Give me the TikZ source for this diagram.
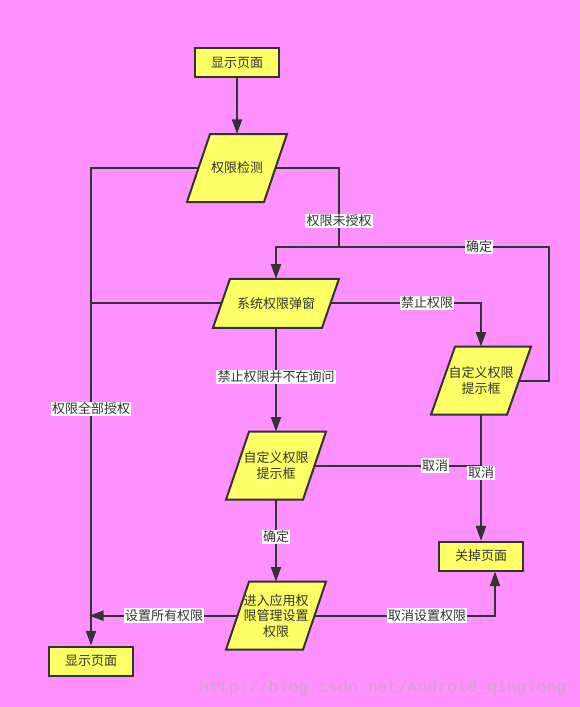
\documentclass[tikz,border=0pt]{standalone}
\usepackage{fontspec}
\newfontfamily\cjk{Noto Sans CJK SC}
\newfontfamily\wmfont{Liberation Mono}
\usetikzlibrary{arrows.meta}
\pgfdeclarelayer{bg}
\pgfdeclarelayer{shapes}
\pgfsetlayers{bg,shapes,main}
\definecolor{pinkbg}{RGB}{255,145,255}
\definecolor{boxyellow}{RGB}{255,255,102}
\definecolor{ink}{RGB}{51,51,51}
\definecolor{wmcol}{RGB}{205,165,205}
\newcommand{\paraoutline}[2]{%
  \begin{pgfonlayer}{shapes}
  \draw[paraline] ([xshift=#2*0.375pt]#1.north west) -- ([xshift=#2*0.375pt]#1.north east)
     -- ([xshift=-#2*0.375pt]#1.south east) -- ([xshift=-#2*0.375pt]#1.south west) -- cycle;
  \end{pgfonlayer}}
\tikzset{
  every node/.style={font=\cjk\fontsize{9.75pt}{11.6pt}\selectfont, text=ink},
  boxnode/.style={draw=ink, fill=boxyellow, line width=1.5pt, minimum width=63pt, minimum height=21.75pt, inner sep=0pt},
  paranode/.style={inner sep=0pt, outer sep=0pt, align=center, minimum height=51pt, minimum width=57.75pt},
  paraline/.style={draw=ink, fill=boxyellow, line width=1.5pt, line join=miter},
  conn/.style={draw=ink, line width=1.5pt},
  arr/.style={conn, -{Triangle[length=11pt,width=7.5pt]}},
  lbl/.style={fill=white, inner sep=1pt},
}
\begin{document}
\begin{tikzpicture}[x=0.75pt, y=-0.75pt]
\useasboundingbox (0,0) rectangle (580,707);
\begin{pgfonlayer}{bg}
\fill[pinkbg] (0,0) rectangle (580,707);
\end{pgfonlayer}

% boxes
\node[boxnode] (show1) at (237,62.5) {显示页面};
\node[boxnode] (close) at (481,556) {关掉页面};
\node[boxnode] (show2) at (91,661) {显示页面};

% parallelograms
\node[paranode] (p1) at (237,168) {权限检测};
\node[paranode, minimum height=36.75pt, minimum width=81.75pt] (p2) at (276,303.3) {系统权限弹窗};
\node[paranode, minimum width=57pt] (p3) at (481,380.7) {自定义权限\\提示框};
\node[paranode] (p4) at (276,465.7) {自定义权限\\提示框};
\node[paranode] (p5) at (276,615.7) {进入应用权\\限管理设置\\权限};
\paraoutline{p1}{23}
\paraoutline{p2}{17}
\paraoutline{p3}{24}
\paraoutline{p4}{23}
\paraoutline{p5}{23}

% helper coordinates
\coordinate (cT) at (339,247);
\coordinate (cJ) at (276,247);
\coordinate (cR) at (549,247);
\coordinate (cB) at (495,615.7);
\coordinate (cX) at (89,615.7);

% connectors
\draw[arr] (show1.south) -- (p1.north);
\draw[conn] (p1.east) -- (p1.east -| cT) -- (cT);
\draw[arr] (p3.east) -- (p3.east -| cR) -- (cR) -- (cJ) -- (p2.north);
\draw[arr] (p1.west) -- (p1.west -| show2.north) -- (show2.north);
\draw[conn] (p2.west) -- (p2.west -| show2.north);
\draw[arr] (p2.east) -- (p2.east -| p3.north) -- (p3.north);
\draw[arr] (p2.south) -- (p4.north);
\draw[arr] (p4.east) -- (p4.east -| close.north) -- (close.north);
\draw[arr] (p3.south) -- (close.north);
\draw[arr] (p4.south) -- (p5.north);
\draw[arr] (p5.east) -- (cB) -- (cB |- close.south);
\draw[arr] (p5.west) -- (cX);

% labels
\node[lbl] (l1) at (339,221) {权限未授权};
\node[lbl] (l2) at (479,247) {确定};
\node[lbl] (l3) at (427,303) {禁止权限};
\node[lbl] (l4) at (91,409) {权限全部授权};
\node[lbl] (l5) at (276,377) {禁止权限并不在询问};
\node[lbl] (l6) at (435,465.5) {取消};
\node[lbl] (l7) at (481,473) {取消};
\node[lbl] (l8) at (276,537) {确定};
\node[lbl] (l9) at (427,615.5) {取消设置权限};
\node[lbl] (l10) at (164,615.5) {设置所有权限};

% watermark
\node[anchor=west, inner sep=0pt, font=\wmfont\fontsize{12.4pt}{14pt}\selectfont, text=wmcol] (wm) at (199,688) {http://blog.csdn.net/Android\_qinglong};
\end{tikzpicture}
\end{document}
